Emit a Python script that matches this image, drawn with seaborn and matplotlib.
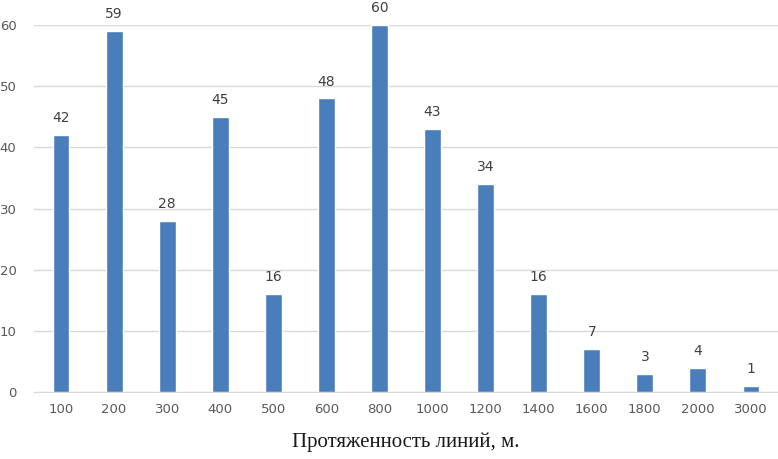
import matplotlib
matplotlib.use("Agg")
import matplotlib.pyplot as plt
import seaborn as sns
import pandas as pd

# Chart data
lengths = ["100", "200", "300", "400", "500", "600", "800", "1000",
           "1200", "1400", "1600", "1800", "2000", "3000"]
counts = [42, 59, 28, 45, 16, 48, 60, 43, 34, 16, 7, 3, 4, 1]

df = pd.DataFrame({"length": lengths, "count": counts})

sns.set_style("white")
plt.rcParams['font.family'] = ['DejaVu Sans']

fig = plt.figure(figsize=(7.78, 4.59), dpi=100)
ax = fig.add_axes([0.0443, 0.146, 0.9551, 0.7995])

sns.barplot(data=df, x="length", y="count", color="#4A7EBB",
            width=0.32, saturation=1, ax=ax, zorder=3)

# Value labels on top of bars
for i, v in enumerate(counts):
    ax.text(i, v + 1.6, str(v), ha='center', va='bottom',
            fontsize=10, color='#404040', clip_on=False)

ax.set_ylim(0, 60)
ax.set_yticks(range(0, 61, 10))
ax.yaxis.grid(True, color='#D9D9D9', linewidth=1, zorder=0)
ax.set_axisbelow(True)
for side in ['top', 'right', 'left']:
    ax.spines[side].set_visible(False)
ax.spines['bottom'].set_color('#D9D9D9')

ax.tick_params(axis='both', length=0, labelsize=9.5, colors='#595959')
ax.tick_params(axis='y', pad=13)
ax.tick_params(axis='x', pad=8)

ax.set_ylabel('')
ax.set_xlabel('Протяженность линий, м.', fontsize=15,
              family=['Liberation Serif'], color='#1a1a1a', labelpad=12)

plt.savefig("out.png", dpi=100)
plt.close()
